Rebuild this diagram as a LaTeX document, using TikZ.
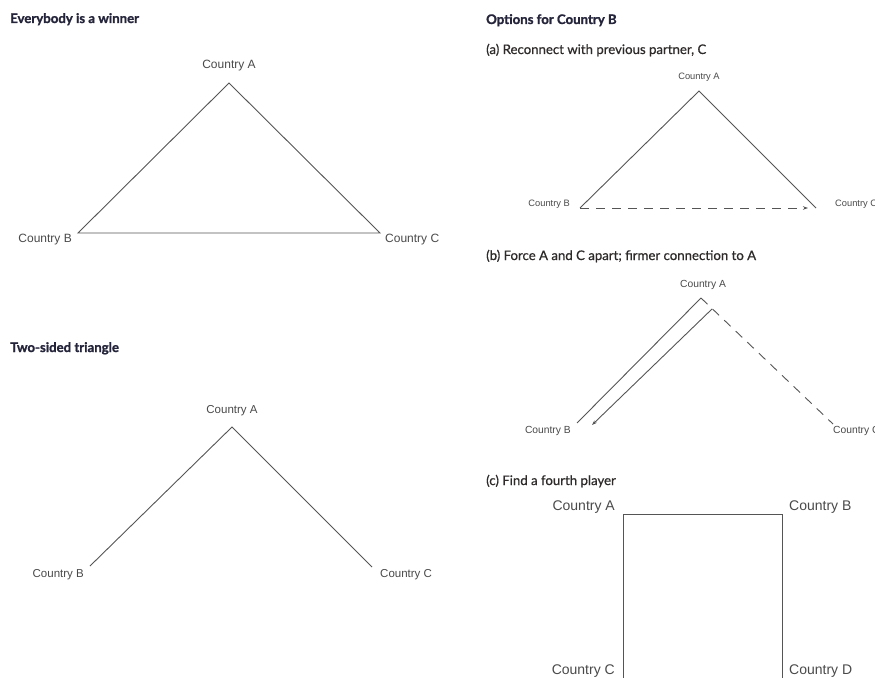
\documentclass[tikz,border=0pt]{standalone}
\usepackage{fontspec}
\usetikzlibrary{arrows.meta}
\newfontfamily\labfont{Liberation Sans}
\newfontfamily\headfont{Lato}[BoldFeatures={FakeBold=1.2}]
\newfontfamily\subfont{Lato}[FakeBold=0.6]
\definecolor{linec}{HTML}{555555}
\definecolor{labc}{HTML}{4A4A4A}
\definecolor{headc}{HTML}{24243A}
\definecolor{subc}{HTML}{2E2A2A}
\begin{document}
\begin{tikzpicture}[x=1pt,y=-1pt,
  lab/.style={inner sep=0pt, text=labc, font=\labfont\fontsize{#1}{#1}\selectfont},
  headtxt/.style={inner sep=0pt, anchor=base west, text=headc, font=\headfont\bfseries\fontsize{13.2}{14}\selectfont},
  subtxt/.style={inner sep=0pt, anchor=base west, text=subc, font=\subfont\fontsize{13.2}{14}\selectfont},
  edge/.style={draw=linec, line width=0.9pt, line join=miter},
  dashedge/.style={draw=linec, line width=0.9pt, dash pattern=on 9pt off 7pt},
  tip/.style={-{Stealth[length=5pt,width=3.5pt]}}]
\clip (0,0) rectangle (875,677);
\fill[white] (0,0) rectangle (875,677);

% headings
\node[headtxt] (h1) at (10,23) {Everybody is a winner};
\node[headtxt] (h2) at (10,352) {Two-sided triangle};
\node[headtxt] (h3) at (486,24) {Options for Country B};
\node[subtxt] (ha) at (486,54) {(a) Reconnect with previous partner, C};
\node[subtxt] (hb) at (486,260) {(b) Force A and C apart; firmer connection to A};
\node[subtxt] (hc) at (486,485) {(c) Find a fourth player};

% Everybody is a winner
\coordinate (tA) at (229,83);
\coordinate (tB) at (78,233);
\coordinate (tC) at (380,233);
\node[lab=12, anchor=base] (ltA) at (229,68) {Country A};
\node[lab=12, anchor=base east] (ltB) at (72,242) {Country B};
\node[lab=12, anchor=base west] (ltC) at (385,242) {Country C};
\draw[edge] (tB) -- (tA) -- (tC) -- cycle;

% Two-sided triangle
\coordinate (sA) at (232,427);
\coordinate (sB) at (90,566);
\coordinate (sC) at (372,567);
\node[lab=11.5, anchor=base] (lsA) at (232,413) {Country A};
\node[lab=11.5, anchor=base east] (lsB) at (84,577) {Country B};
\node[lab=11.5, anchor=base west] (lsC) at (380,577) {Country C};
\draw[edge] (sB) -- (sA) -- (sC);

% (a)
\coordinate (aA) at (699,91);
\coordinate (aB) at (580,208);
\coordinate (aC) at (816,208);
\coordinate (aE) at (808,208);
\node[lab=9.3, anchor=base] (laA) at (699,79) {Country A};
\node[lab=9.3, anchor=base east] (laB) at (570,206) {Country B};
\node[lab=9.3, anchor=base west] (laC) at (835,206) {Country C};
\draw[edge] (aB) -- (aA) -- (aC);
\draw[dashedge, tip] (aB) -- (aE);

% (b)
\coordinate (bA) at (701,298);
\coordinate (bB) at (577,423);
\coordinate (bC) at (833,424);
\coordinate (bS) at (712,309);
\coordinate (bE) at (592,425);
\node[lab=10.3, anchor=base] (lbA) at (703,287) {Country A};
\node[lab=10.3, anchor=base east] (lbB) at (571,433) {Country B};
\node[lab=10.3, anchor=base west] (lbC) at (833,433) {Country C};
\draw[edge] (bB) -- (bA);
\draw[dashedge] (bA) -- (bC);
\draw[edge, tip] (bS) -- (bE);

% (c)
\coordinate (cA) at (623,514);
\coordinate (cB) at (782,514);
\coordinate (cC) at (623,680);
\coordinate (cD) at (782,680);
\node[lab=14, anchor=base east] (lcA) at (615,510) {Country A};
\node[lab=14, anchor=base west] (lcB) at (789,510) {Country B};
\node[lab=14, anchor=base east] (lcC) at (615,674) {Country C};
\node[lab=14, anchor=base west] (lcD) at (789,674) {Country D};
\draw[edge] (cC) -- (cA) -- (cB) -- (cD);
\end{tikzpicture}
\end{document}
